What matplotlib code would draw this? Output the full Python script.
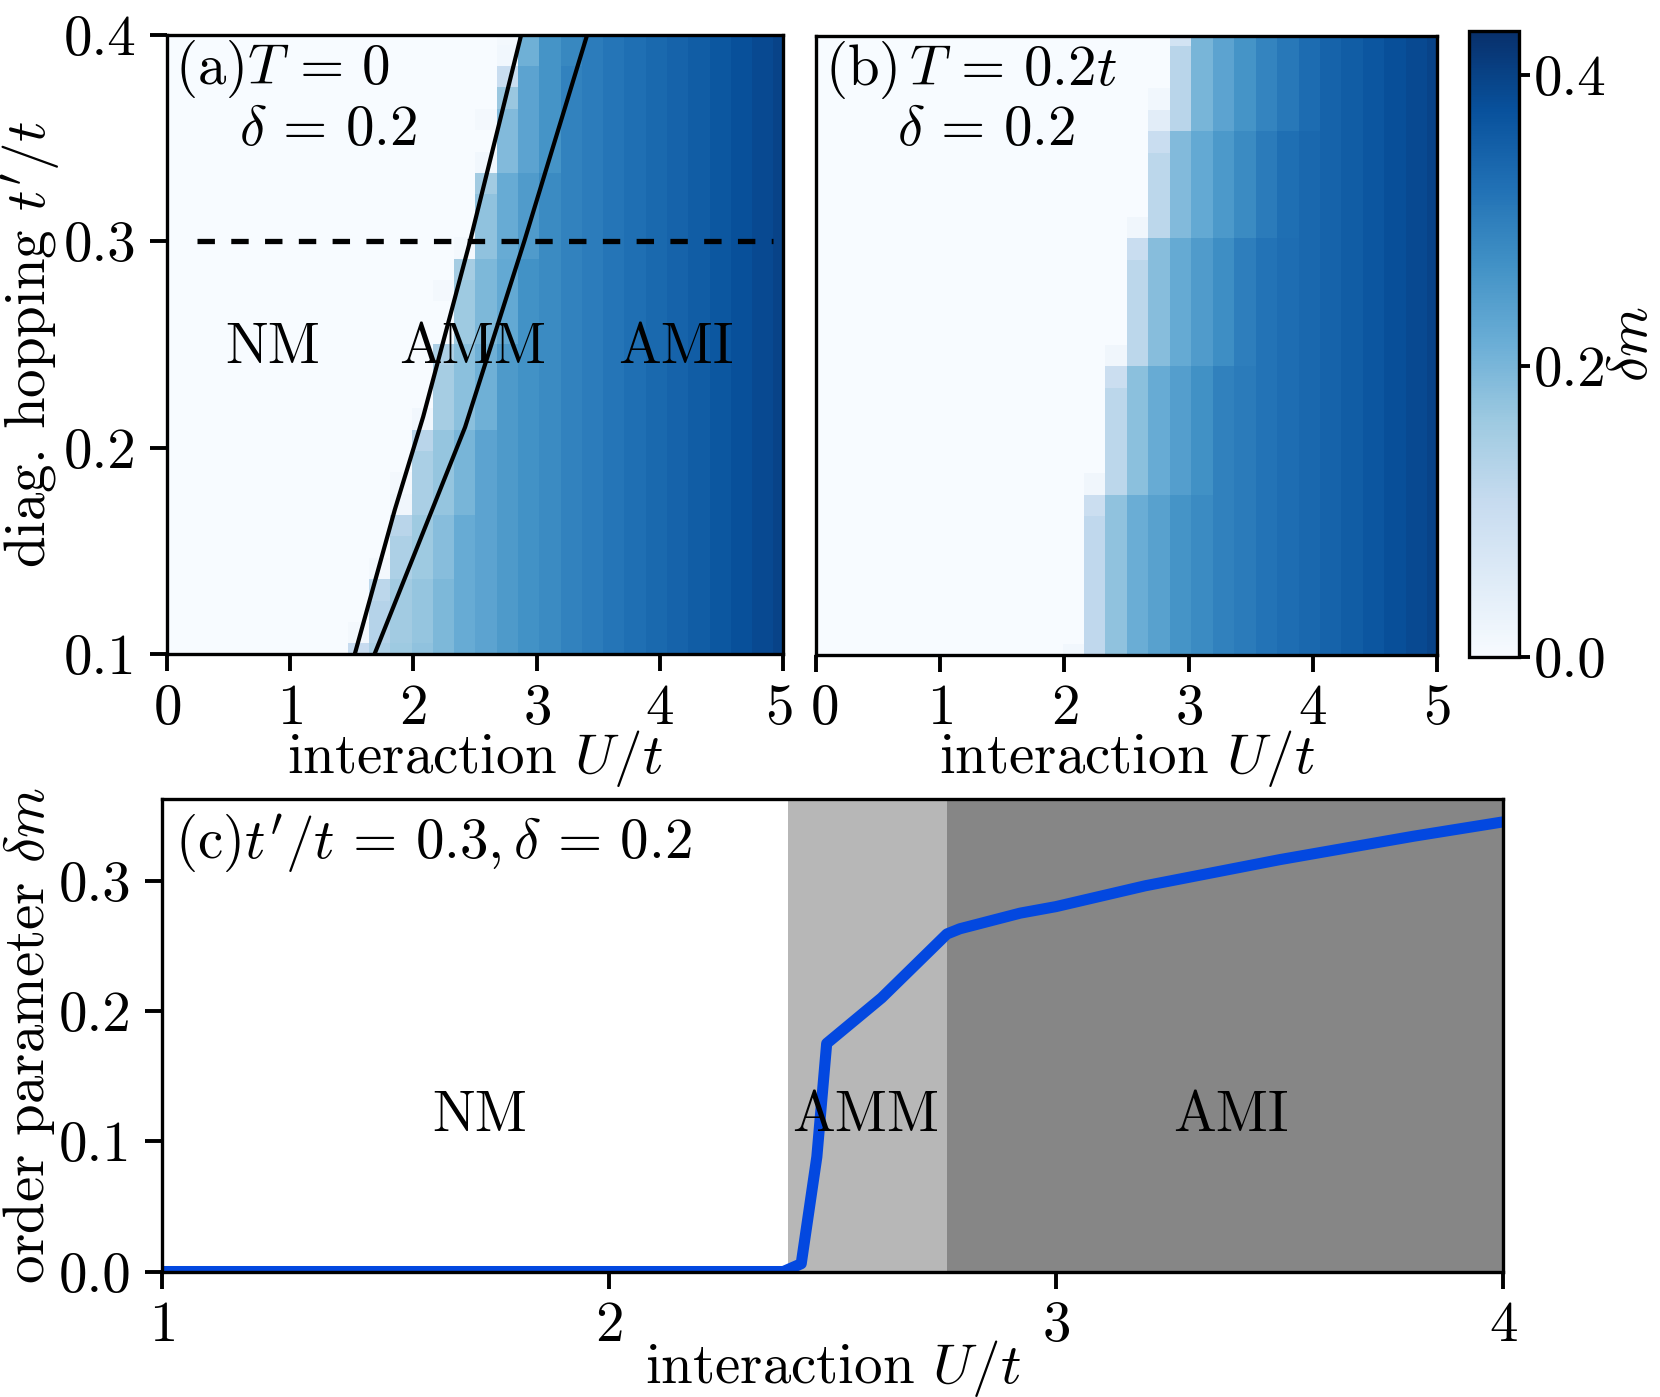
import numpy as np
import matplotlib
matplotlib.use('Agg')
import matplotlib.pyplot as plt
from matplotlib.ticker import FormatStrFormatter
from matplotlib.transforms import ScaledTranslation

plt.rcParams['font.family'] = 'serif'
plt.rcParams['font.serif'] = ['cmr10', 'DejaVu Serif']
plt.rcParams['mathtext.fontset'] = 'cm'
plt.rcParams['axes.unicode_minus'] = False
plt.rcParams['axes.formatter.use_mathtext'] = True

FS = 20.5

# grid of the two phase diagrams: 30 x 30 points
U_grid = np.linspace(0, 5, 30)
tp_grid = np.linspace(0.1, 0.4, 30)

# ---- panel (a), T = 0 ----
# blocks of rows (first, last) sharing the same first ordered column
rows_a = [(0, 0), (1, 3), (4, 6), (7, 10), (11, 14), (15, 18), (19, 22), (23, 27), (28, 29)]
start_a = [9, 10, 11, 12, 13, 14, 15, 16, 17]
lead_a = [[0.105, 0.14, 0.16],
          [0.13, 0.155, 0.17],
          [0.14, 0.16, 0.185],
          [0.145, 0.17, 0.20],
          [0.15, 0.18, 0.21],
          [0.16, 0.195, 0.225],
          [0.175, 0.22, 0.25],
          [0.19, 0.235, 0.265],
          [0.21, 0.265, 0.285]]
bulk_a = [0, 0, 0, 0, 0, 0, 0, 0, 0,
          0.105, 0.14, 0.16, 0.175, 0.195, 0.22, 0.235, 0.252, 0.268, 0.28, 0.293,
          0.304, 0.315, 0.325, 0.335, 0.345, 0.355, 0.366, 0.377, 0.388, 0.398]
# single cells (row, column, value)
extra_a = [(1, 9, 0.01), (4, 10, 0.01), (3, 10, 0.12), (7, 11, 0.015), (8, 11, 0.008),
           (6, 11, 0.125), (10, 12, 0.125), (11, 12, 0.012), (14, 13, 0.14), (17, 13, 0.01),
           (18, 14, 0.15), (19, 14, 0.01), (22, 15, 0.155), (23, 15, 0.012), (25, 15, 0.008),
           (26, 16, 0.165), (27, 16, 0.10), (28, 16, 0.012), (29, 16, 0.008)]

# boundaries NM/AMM and AMM/AMI
tp_line1 = [0.1, 0.17, 0.215, 0.3, 0.4]
U_line1 = [1.525, 1.85, 2.08, 2.46, 2.875]
tp_line2 = [0.1, 0.21, 0.3, 0.4]
U_line2 = [1.685, 2.42, 2.90, 3.41]

# ---- panel (b), T = 0.2t ----
rows_b = [(0, 7), (8, 13), (14, 19), (20, 24), (25, 29)]
start_b = [13, 14, 15, 16, 17]
lead_b = [[0.115, 0.175, 0.215, 0.24],
          [0.12, 0.18, 0.22, 0.245, 0.27],
          [0.12, 0.185, 0.222, 0.25, 0.275, 0.30],
          [0.12, 0.19, 0.225, 0.255, 0.28, 0.305, 0.325],
          [0.125, 0.2, 0.235, 0.265, 0.29, 0.31, 0.33]]
bulk_b = [0, 0, 0, 0, 0, 0, 0, 0, 0, 0, 0, 0, 0,
          0.115, 0.175, 0.215, 0.24, 0.265, 0.28, 0.295, 0.305, 0.318,
          0.328, 0.337, 0.345, 0.355, 0.367, 0.378, 0.388, 0.398]
extra_b = [(0, 12, 0.012), (7, 13, 0.095), (8, 13, 0.015), (13, 14, 0.095), (14, 14, 0.015),
           (19, 15, 0.1), (20, 15, 0.015), (24, 16, 0.1), (25, 16, 0.045), (26, 16, 0.012),
           (29, 17, 0.08)]

# ---- panel (c), cut at t'/t = 0.3 ----
U_c = [1.0, 2.39, 2.43, 2.465, 2.487, 2.61, 2.756, 2.785, 2.92, 3.0, 3.2, 3.5, 3.8, 4.0]
dm_c = [0.0, 0.0, 0.006, 0.088, 0.175, 0.21, 0.259, 0.263, 0.275, 0.28, 0.296, 0.316, 0.334, 0.345]
amm_c = (2.40, 2.757)
ami_c = (2.757, 4.0)


def build(rows, starts, leads, bulk, extra):
    z = np.zeros((len(tp_grid), len(U_grid)))
    for (r0, r1), c0, lead in zip(rows, starts, leads):
        for j in range(r0, r1 + 1):
            z[j, c0:] = bulk[c0:]
            z[j, c0:c0 + len(lead)] = lead
    for j, c, v in extra:
        z[j, c] = v
    return z


def style(ax):
    for s in ax.spines.values():
        s.set_linewidth(1.2)
    ax.tick_params(direction='out', length=6, width=1.4, labelsize=FS)
    ax.tick_params(axis='x', pad=4.5)
    ax.tick_params(axis='y', pad=5)


fig = plt.figure(figsize=(8.3, 6.985), dpi=200)
ax_a = fig.add_axes([0.1004, 0.5316, 0.3714, 0.4434])
ax_b = fig.add_axes([0.4916, 0.5313, 0.3741, 0.4431])
cax = fig.add_axes([0.8849, 0.5297, 0.0301, 0.448])
ax_c = fig.add_axes([0.0976, 0.0898, 0.8078, 0.3382])

dU = U_grid[1] - U_grid[0]
dt = tp_grid[1] - tp_grid[0]
extent = [U_grid[0] - dU / 2, U_grid[-1] + dU / 2, tp_grid[0] - dt / 2, tp_grid[-1] + dt / 2]

z_a = build(rows_a, start_a, lead_a, bulk_a, extra_a)
z_b = build(rows_b, start_b, lead_b, bulk_b, extra_b)

for ax, z in [(ax_a, z_a), (ax_b, z_b)]:
    im = ax.imshow(z, origin='lower', extent=extent, aspect='auto', cmap='Blues',
                   vmin=0, vmax=0.43, interpolation='nearest')
    ax.set_xlim(0, 5)
    ax.set_ylim(0.1, 0.4)
    ax.set_xticks([0, 1, 2, 3, 4, 5])
    style(ax)
    ax.set_xlabel('interaction $U/t$', fontsize=FS, labelpad=-2.5)

# nudge the neighbouring "5" and "0" apart
lab5 = ax_a.get_xticklabels()[-1]
lab5.set_transform(lab5.get_transform() + ScaledTranslation(-1.5 / 72, 0, fig.dpi_scale_trans))
lab0 = ax_b.get_xticklabels()[0]
lab0.set_transform(lab0.get_transform() + ScaledTranslation(3 / 72, 0, fig.dpi_scale_trans))

ax_a.plot(U_line1, tp_line1, color='black', lw=1.5)
ax_a.plot(U_line2, tp_line2, color='black', lw=1.5)
ax_a.plot([0.25, 4.92], [0.3, 0.3], color='black', lw=1.9, dashes=(3.3, 3.1))
ax_a.set_yticks([0.1, 0.2, 0.3, 0.4])
ax_a.yaxis.set_major_formatter(FormatStrFormatter('%.1f'))
ax_a.set_ylabel("diag. hopping $t'/t$", fontsize=FS, labelpad=0.5)
ax_a.text(0.014, 0.92, r'(a)$T\,=\,0$', transform=ax_a.transAxes, fontsize=FS)
ax_a.text(0.118, 0.823, r'$\delta\,=\,0.2$', transform=ax_a.transAxes, fontsize=FS)
for lab, u in [('NM', 0.86), ('AMM', 2.48), ('AMI', 4.13)]:
    ax_a.text(u, 0.241, lab, ha='center', fontsize=FS)

ax_b.set_yticks([])
ax_b.text(0.014, 0.92, r'(b)$\,T\,=\,0.2t$', transform=ax_b.transAxes, fontsize=FS)
ax_b.text(0.13, 0.823, r'$\delta\,=\,0.2$', transform=ax_b.transAxes, fontsize=FS)

cb = fig.colorbar(im, cax=cax)
cb.set_ticks([0.0, 0.2, 0.4])
cb.ax.yaxis.set_major_formatter(FormatStrFormatter('%.1f'))
cb.outline.set_linewidth(1.2)
cb.ax.tick_params(length=4, width=1.4, labelsize=FS, pad=1.5)
cb.set_label(r'$\delta m$', fontsize=FS, labelpad=0)

# panel (c)
ax_c.axvspan(*amm_c, color='#b7b7b7', lw=0)
ax_c.axvspan(*ami_c, color='#868686', lw=0)
ax_c.plot(U_c, dm_c, color='#0348e0', lw=4.0, solid_joinstyle='round')
ax_c.set_xlim(1, 4)
ax_c.set_ylim(0, 0.3625)
ax_c.set_xticks([1, 2, 3, 4])
ax_c.set_yticks([0.0, 0.1, 0.2, 0.3])
ax_c.yaxis.set_major_formatter(FormatStrFormatter('%.1f'))
style(ax_c)
ax_c.set_xlabel('interaction $U/t$', fontsize=FS, labelpad=-5)
ax_c.set_ylabel(r'order parameter $\delta m$', fontsize=FS, labelpad=0.5)
ax_c.text(0.0095, 0.876, r"(c)$t'/t\,=\,0.3,\delta\,=\,0.2$", transform=ax_c.transAxes, fontsize=FS)
for lab, u in [('NM', 1.71), ('AMM', 2.575), ('AMI', 3.392)]:
    ax_c.text(u, 0.108, lab, ha='center', fontsize=FS)

fig.savefig('out.png', dpi=200)
